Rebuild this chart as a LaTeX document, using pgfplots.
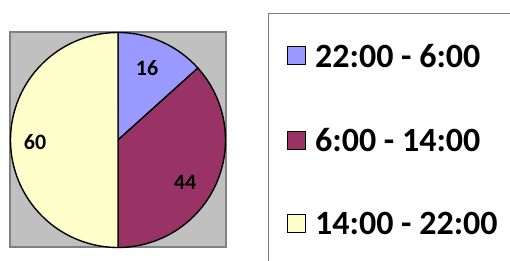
\documentclass[border=0pt]{standalone}
\usepackage{pgfplots}
\usepackage{pgfplotstable}
\pgfplotsset{compat=1.18}
\usepackage{fontspec}
\setmainfont{Carlito}
\definecolor{pieA}{HTML}{9999FF}
\definecolor{pieB}{HTML}{993366}
\definecolor{pieC}{HTML}{FFFFCC}
\definecolor{bgGray}{HTML}{C0C0C0}
\definecolor{bdGray}{HTML}{808080}
\pgfplotstableread{
label value
{22:00 - 6:00} 16
{6:00 - 14:00} 44
{14:00 - 22:00} 60
}\piedata
\begin{document}
\begin{tikzpicture}
\pgfplotstablegetelem{0}{value}\of\piedata \let\va\pgfplotsretval
\pgfplotstablegetelem{1}{value}\of\piedata \let\vb\pgfplotsretval
\pgfplotstablegetelem{2}{value}\of\piedata \let\vc\pgfplotsretval
\pgfmathsetmacro\total{\va+\vb+\vc}
\pgfmathsetmacro\aA{90}
\pgfmathsetmacro\aB{\aA-360*(\va/\total)}
\pgfmathsetmacro\aC{\aB-360*(\vb/\total)}
\pgfmathsetmacro\aD{\aC-360*(\vc/\total)}
\def\cx{118}\def\cy{120}\def\r{107.5}
\begin{axis}[
  scale only axis, width=510pt, height=260pt,
  xmin=0, xmax=510, ymin=0, ymax=260,
  hide axis, clip=true,
]
\path (0,0) rectangle (510,260);
% gray plot area
\draw[fill=bgGray, draw=bdGray, line width=1.5pt] (10,13) rectangle (226,228);
% slices
\addplot[fill=pieA, draw=black, line width=1.4pt, domain=\aB:\aA, samples=60, variable=\t]
  ({\cx+\r*cos(\t)},{\cy+\r*sin(\t)}) -- (\cx,\cy) -- cycle;
\addplot[fill=pieB, draw=black, line width=1.4pt, domain=\aC:\aB, samples=80, variable=\t]
  ({\cx+\r*cos(\t)},{\cy+\r*sin(\t)}) -- (\cx,\cy) -- cycle;
\addplot[fill=pieC, draw=black, line width=1.4pt, domain=\aD:\aC, samples=100, variable=\t]
  ({\cx+\r*cos(\t)},{\cy+\r*sin(\t)}) -- (\cx,\cy) -- cycle;
% labels
\node[font=\fontsize{22}{24}\selectfont\bfseries] at (147,192) {\va};
\node[font=\fontsize{22}{24}\selectfont\bfseries] at (185,78) {\vb};
\node[font=\fontsize{22}{24}\selectfont\bfseries] at (35,118) {\vc};
% legend box
\draw[draw=bdGray, line width=1pt] (268,-10) rectangle (530,246);
\draw[fill=pieA, draw=black, line width=1pt] (287,195) rectangle (305,213);
\draw[fill=pieB, draw=black, line width=1pt] (287,111) rectangle (305,129);
\draw[fill=pieC, draw=black, line width=1pt] (287,28) rectangle (305,46);
\node[anchor=west, inner sep=0pt, font=\fontsize{34}{36}\selectfont\bfseries] at (315,204) {22:00 - 6:00};
\node[anchor=west, inner sep=0pt, font=\fontsize{34}{36}\selectfont\bfseries] at (315,120) {6:00 - 14:00};
\node[anchor=west, inner sep=0pt, font=\fontsize{34}{36}\selectfont\bfseries] at (315,37) {14:00 - 22:00};
\end{axis}
\end{tikzpicture}
\end{document}
